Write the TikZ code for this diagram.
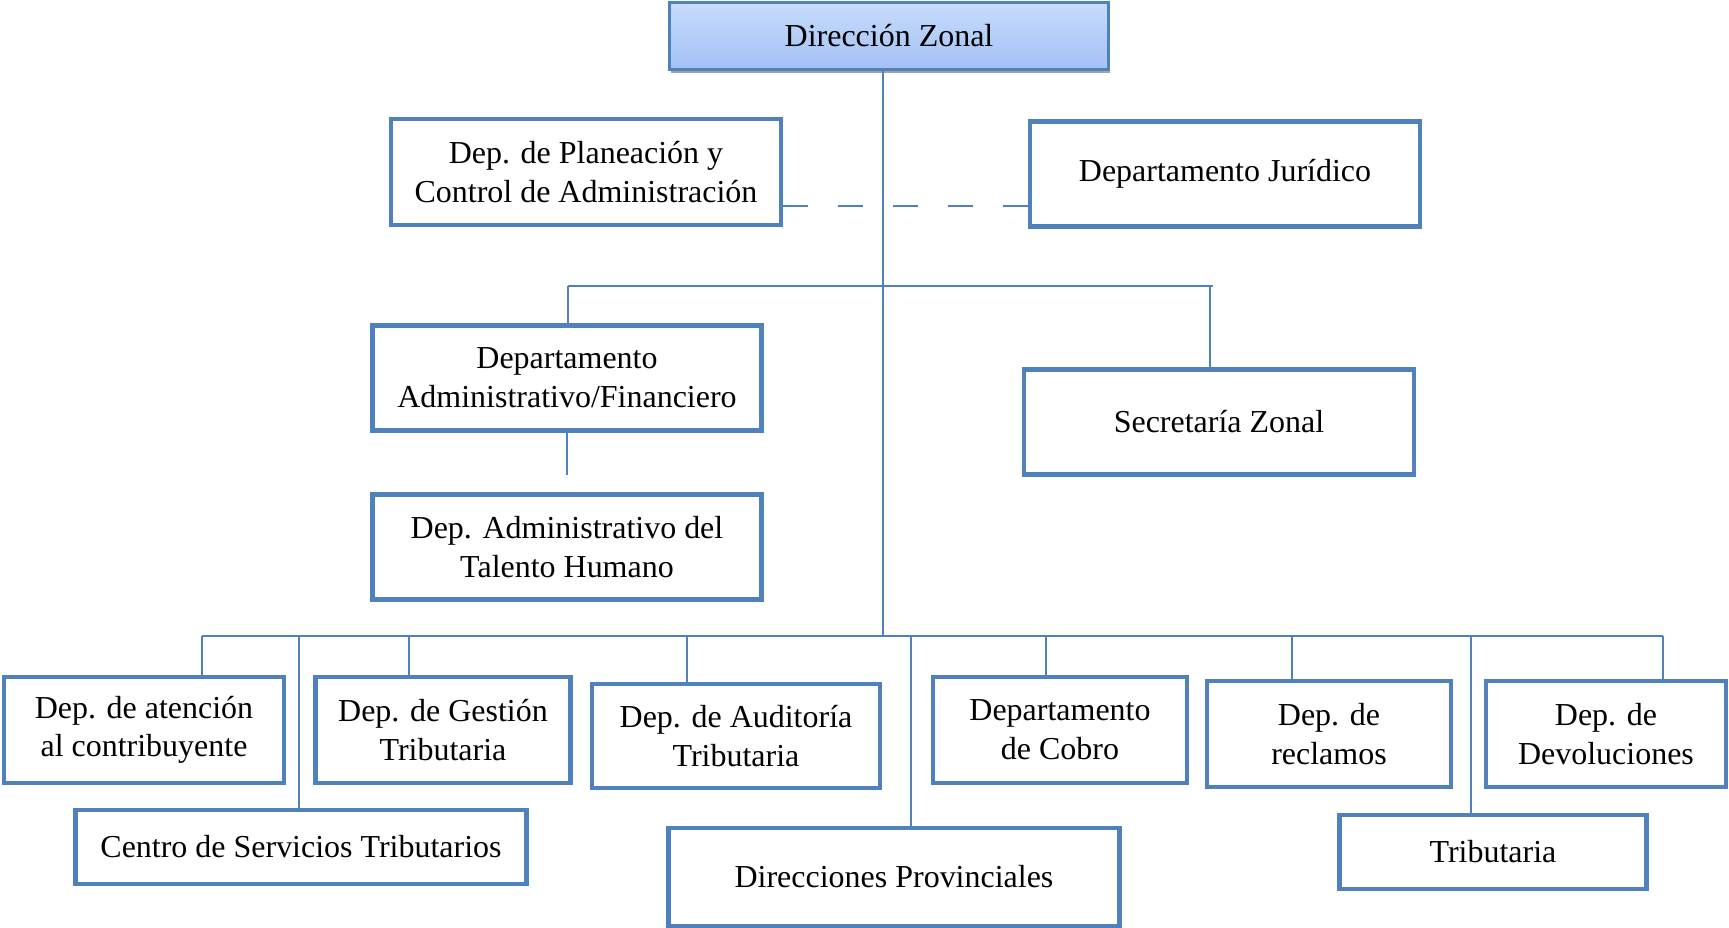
\documentclass[tikz,border=0pt]{standalone}
\usepackage{fontspec}
\setmainfont{Liberation Serif}
\usepackage{tikz}
\usetikzlibrary{shadows}
\definecolor{OrgBlue}{HTML}{4F81BD}
\definecolor{OrgTop}{HTML}{C8DCFC}
\definecolor{OrgBottom}{HTML}{A2C1F4}
\definecolor{OrgShadow}{HTML}{8C8C8C}
\tikzset{
  orgtext/.style={font=\fontsize{18.2}{22}\selectfont, text=black, align=center},
  orgbox/.style={orgtext, draw=OrgBlue, line width=2.6pt, fill=white, inner sep=0pt},
  headbox/.style={orgtext, draw=OrgBlue, line width=1.2pt, top color=OrgTop, bottom color=OrgBottom, inner sep=0pt,
    drop shadow={shadow xshift=0.6pt, shadow yshift=-2.2pt, fill=OrgShadow, opacity=0.8}},
  orgline/.style={draw=OrgBlue, line width=1.1pt},
  orgdash/.style={orgline, dash pattern=on 0.5cm off 0.6cm}
}

\begin{document}
\begin{tikzpicture}[x=0.02cm, y=-0.02cm]
\useasboundingbox (0,0) rectangle (1729,928);
% top levels
\node[headbox, minimum width=8.78cm, minimum height=1.34cm] (dz) at (889,36) {Dirección Zonal};
\node[orgbox, minimum width=7.8cm, minimum height=2.12cm] (plan) at (586,172) {Dep. de Planeación y\\Control de Administración};
\node[orgbox, minimum width=7.8cm, minimum height=2.1cm] (jur) at (1225,174) {Departamento Jurídico};
\node[orgbox, minimum width=7.78cm, minimum height=2.1cm] (adm) at (567,378) {Departamento\\Administrativo/Financiero};
\node[orgbox, minimum width=7.78cm, minimum height=2.1cm] (tal) at (567,547) {Dep. Administrativo del\\Talento Humano};
\node[orgbox, minimum width=7.8cm, minimum height=2.1cm] (sec) at (1219,422) {Secretaría Zonal};
% departments
\node[orgbox, minimum width=5.6cm, minimum height=2.12cm] (aten) at (144,730) {Dep. de atención\\al contribuyente};
\node[orgbox, minimum width=5.1cm, minimum height=2.12cm] (gest) at (443,730) {Dep. de Gestión\\Tributaria};
\node[orgbox, minimum width=5.76cm, minimum height=2.08cm] (aud) at (736,736) {Dep. de Auditoría\\Tributaria};
\node[orgbox, minimum width=5.08cm, minimum height=2.12cm] (cob) at (1060,730) {Departamento\\de Cobro};
\node[orgbox, minimum width=4.88cm, minimum height=2.12cm] (rec) at (1329,734) {Dep. de\\reclamos};
\node[orgbox, minimum width=4.8cm, minimum height=2.12cm] (dev) at (1606,734) {Dep. de\\Devoluciones};
\node[orgbox, minimum width=9.02cm, minimum height=1.48cm] (cen) at (301,847) {Centro de Servicios Tributarios};
\node[orgbox, minimum width=9.02cm, minimum height=1.96cm] (prov) at (894,877) {Direcciones Provinciales};
\node[orgbox, minimum width=6.14cm, minimum height=1.48cm] (trib) at (1493,852) {Tributaria};
% connectors
\coordinate (bus) at (883,636);
\coordinate (hub) at (883,286);
\draw[orgline] (dz.south -| bus) -- (bus);
\draw[orgdash] (plan.east |- 0,206) -- (jur.west |- 0,206);
\draw[orgline] (568,286) -- (1213,286);
\draw[orgline] (568,286) -- (568,286 |- adm.north);
\draw[orgline] (1210,286) -- (1210,286 |- sec.north);
\draw[orgline] (adm.south) -- ++(0,42);
\draw[orgline] (202,636) -- (1663,636);
\foreach \x/\n in {202/aten,409/gest,687/aud,1046/cob,1292/rec,1663/dev,299/cen,911/prov,1471/trib}
  \draw[orgline] (\x,636) -- (\x,636 |- \n.north);
\end{tikzpicture}
\end{document}
